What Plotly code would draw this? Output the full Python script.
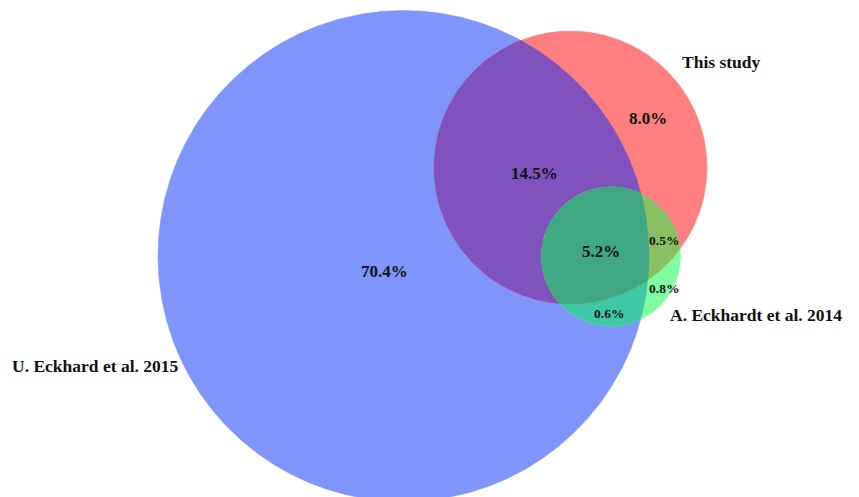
import numpy as np
import plotly.graph_objects as go

# ---- data ----
set_names = ["U. Eckhard et al. 2015", "This study", "A. Eckhardt et al. 2014"]
region_keys = ["100", "010", "110", "001", "101", "011", "111"]
region_values = [70.4, 8.0, 14.5, 0.8, 0.6, 0.5, 5.2]

# ---- layout (pixel space of the picture) ----
W, H = 859, 497
OFF = 8  # page body margin
circles = {  # centre x, centre y, radius
    0: (403.5, 256.0, 245.5),
    1: (570.5, 167.5, 136.5),
    2: (611.0, 256.5, 69.5),
}
region_colors = {
    "100": "#7f95fb", "010": "#ff7f80", "001": "#7ffd9f",
    "110": "#7f52be", "101": "#3ec8a8", "011": "#88c062", "111": "#40a783",
}
label_pos = {
    "100": (384, 271), "010": (648, 118), "110": (534, 173), "001": (664, 288),
    "101": (609, 313), "011": (664, 240), "111": (601, 251),
}
label_size = {"100": 17, "010": 17, "110": 17, "111": 17, "001": 13.5, "101": 13.5, "011": 13.5}
name_pos = [(95, 366), (721, 62), (756, 315)]

t = np.linspace(0, 2 * np.pi, 1441)


def circle_pts(i):
    cx, cy, r = circles[i]
    return cx + r * np.cos(t), cy + r * np.sin(t)


def inside(x, y, i):
    cx, cy, r = circles[i]
    return (x - cx) ** 2 + (y - cy) ** 2 <= r ** 2 + 1e-6


def intersection(ids):
    xs, ys = [], []
    for i in ids:
        x, y = circle_pts(i)
        m = np.ones_like(x, dtype=bool)
        for j in ids:
            if j != i:
                m &= inside(x, y, j)
        xs.append(x[m]); ys.append(y[m])
    x = np.concatenate(xs); y = np.concatenate(ys)
    mx, my = x.mean(), y.mean()
    order = np.argsort(np.arctan2(y - my, x - mx))
    x, y = x[order], y[order]
    return np.append(x, x[0]), np.append(y, y[0])


fig = go.Figure()
layers = [("100", [0]), ("010", [1]), ("001", [2]),
          ("110", [0, 1]), ("101", [0, 2]), ("011", [1, 2]), ("111", [0, 1, 2])]
for key, ids in layers:
    if len(ids) == 1:
        x, y = circle_pts(ids[0])
    else:
        x, y = intersection(ids)
    fig.add_trace(go.Scatter(x=x, y=y, mode="lines", fill="toself",
                             fillcolor=region_colors[key], line=dict(width=0.6, color=region_colors[key]),
                             hoverinfo="skip", showlegend=False))

for key, val in zip(region_keys, region_values):
    px, py = label_pos[key]
    fig.add_annotation(x=px, y=py, text=f"<b>{val:.1f}%</b>", showarrow=False,
                       font=dict(family="Liberation Serif", size=label_size[key], color="#111111"))

for name, (px, py) in zip(set_names, name_pos):
    fig.add_annotation(x=px, y=py, text=f"<b>{name}</b>", showarrow=False,
                       font=dict(family="Liberation Serif", size=17.5, color="#111111"))

fig.update_layout(
    width=W, height=H, margin=dict(l=0, r=0, t=0, b=0),
    paper_bgcolor="white", plot_bgcolor="white",
    xaxis=dict(range=[OFF, W + OFF], visible=False, fixedrange=True),
    yaxis=dict(range=[H + OFF, OFF], visible=False, fixedrange=True),
)
fig.write_html("out.html", config={"displayModeBar": False})
